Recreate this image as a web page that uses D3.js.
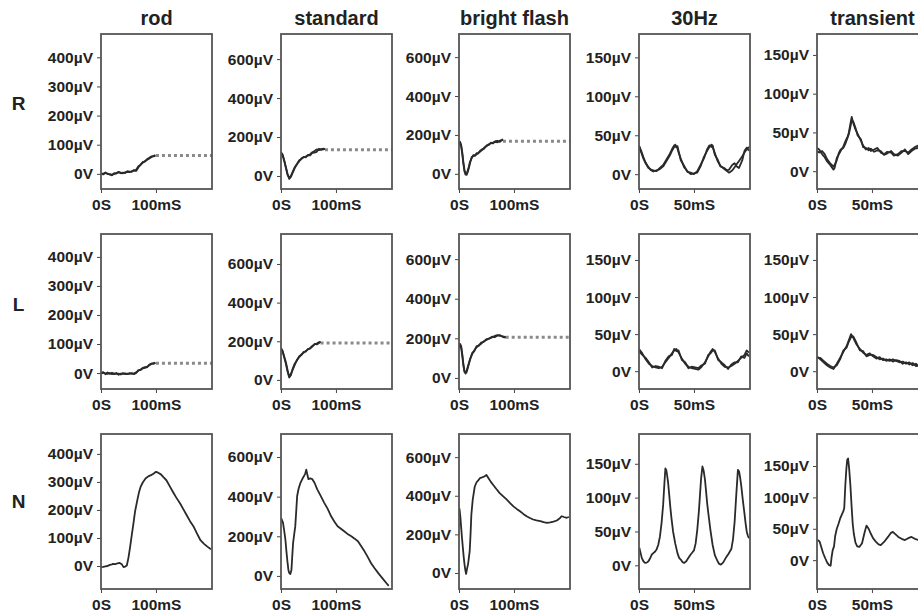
<!DOCTYPE html>
<html>
<head>
<meta charset="utf-8">
<script src="https://cdn.jsdelivr.net/npm/d3@7"></script>
<style>
body { margin: 0; background: #fff; }
text { font-family: "Liberation Sans", Arial, sans-serif; font-weight: bold; }
</style>
</head>
<body>
<div id="chart"></div>
<script>
var columns = ["rod", "standard", "bright flash", "30Hz", "transient"];
var rows = ["R", "L", "N"];

// axis ticks per column
var yTicks = [[0, 100, 200, 300, 400], [0, 200, 400, 600], [0, 200, 400, 600], [0, 50, 100, 150], [0, 50, 100, 150]];
var xTicks = [[0, 100], [0, 100], [0, 100], [0, 50], [0, 50]];
var xMax = [202, 202, 202, 101, 101];

// y range shown in each box [min, max] in µV, row by row
var yRangeR = [[-52, 480], [-67, 729], [-78, 719], [-19, 180], [-23, 177]];
var yRangeL = [[-55, 479], [-47, 755], [-56, 727], [-24, 185], [-24, 185]];
var yRangeN = [[-82, 471], [-66, 716], [-83, 720], [-35, 194], [-46, 201]];

// traces: [ms, µV]
var rodR1 = [[0,0],[4,-2],[8,3],[12,1],[16,-3],[20,-5],[24,0],[28,3],[32,5],[36,4],[40,2],[44,5],[48,7],[52,6],[56,9],[60,11],[64,10],[68,22],[72,32],[76,38],[80,44],[84,48],[88,53],[92,58],[96,62],[99,64]];
var rodR2 = [[0,2],[4,0],[8,5],[12,-1],[16,-1],[20,-3],[24,2],[28,1],[32,7],[36,2],[40,4],[44,3],[48,9],[52,8],[56,7],[60,13],[64,14],[68,26],[72,30],[76,41],[80,42],[84,51],[88,55],[92,60],[96,60],[99,62]];
var stdR1 = [[0,122],[3,110],[6,80],[9,45],[12,10],[15,-15],[18,-5],[21,15],[25,40],[29,60],[33,75],[37,90],[41,95],[45,100],[49,104],[53,112],[57,122],[61,128],[65,136],[69,132],[73,138],[77,140],[80,138]];
var stdR2 = [[0,118],[3,104],[6,75],[9,40],[12,5],[15,-10],[18,0],[21,20],[25,45],[29,62],[33,80],[37,86],[41,98],[45,96],[49,108],[53,106],[57,118],[61,120],[65,124],[69,140],[73,134],[77,136],[80,140]];
var brtR1 = [[0,150],[2,165],[4,148],[6,110],[8,60],[10,20],[12,0],[14,-5],[16,10],[18,30],[20,55],[23,85],[26,92],[29,96],[32,100],[35,108],[38,113],[42,122],[46,135],[50,142],[54,152],[58,156],[62,160],[66,164],[70,162],[74,170],[78,175],[80,178]];
var brtR2 = [[0,160],[2,158],[4,140],[6,100],[8,50],[10,12],[12,-4],[14,2],[16,18],[18,38],[20,62],[23,80],[26,96],[29,92],[32,106],[35,104],[38,118],[42,126],[46,130],[50,146],[54,148],[58,160],[62,156],[66,168],[70,170],[74,164],[78,172],[80,176]];
var hzR1 = [[0,37],[2,30],[4,22],[6,15],[8.6,9],[11,5],[13,3.5],[16,5],[19,6.5],[22,10],[25,17],[28,24],[30,30],[32,35],[33,38],[35,33],[36,28],[38,20],[41,9],[44,4],[47,0],[50,1],[53,2],[56,10],[59,22],[62,30],[64,35],[66,38],[67,35],[69,27],[71.5,17],[74,11],[77.6,6.5],[80,4],[82,2],[85,5],[87,9],[89,13],[91,17],[94,23],[96,28],[98,32],[100,35]];
var hzR2 = [[0,35],[2,28],[4,20],[6,14],[8.6,8],[11,6],[13,5],[16,4],[19,8],[22,12],[25,19],[28,26],[30,32],[32,37],[33,35],[35,36],[36,30],[38,18],[41,11],[44,3],[47,2],[50,0],[53,4],[56,12],[59,20],[62,32],[64,37],[66,35],[67,37],[69,25],[71.5,19],[74,10],[77.6,8],[80,5],[82,6],[85,12],[87,14],[89,10],[91,8],[94,18],[96,30],[98,34],[100,30]];
var trR1 = [[0,30],[2,28],[4.6,22],[7,18],[9,13],[12,8],[15,2],[16,4],[18,17],[20,22],[21.5,26],[24,32],[26,39],[28,45],[29,50],[30.5,62],[31.6,70],[33,62],[35,54],[37,48],[40,39],[42,33],[44.5,28],[47,30],[49,26],[52,28],[55,30],[58,24],[61,22],[64,25],[67.5,24],[70,20],[73.6,22],[77,26],[80,26],[83,24],[86,28],[89,31],[92,33],[95,30],[98,28],[101,30]];
var trR2 = [[0,26],[2,24],[4.6,26],[7,22],[9,16],[12,10],[15,6],[16,8],[18,14],[20,24],[21.5,28],[24,30],[26,36],[28,44],[29,48],[30.5,58],[31.6,66],[33,64],[35,56],[37,46],[40,41],[42,31],[44.5,30],[47,27],[49,29],[52,25],[55,27],[58,26],[61,21],[64,23],[67.5,26],[70,22],[73.6,20],[77,24],[80,28],[83,22],[86,26],[89,29],[92,30],[95,32],[98,26],[101,28]];

var rodL1 = [[0,0],[4,3],[8,-4],[12,2],[16,-3],[20,1],[24,-4],[28,0],[32,-6],[36,-2],[40,-3],[44,-1],[48,-4],[52,0],[56,-3],[60,-1],[64,2],[68,8],[72,12],[76,16],[80,18],[84,22],[88,27],[92,31],[96,34],[99,36]];
var rodL2 = [[0,-2],[4,1],[8,-1],[12,-3],[16,0],[20,-4],[24,-1],[28,-3],[32,-2],[36,-5],[40,0],[44,-4],[48,-2],[52,-3],[56,0],[60,-4],[64,0],[68,10],[72,10],[76,18],[80,20],[84,20],[88,29],[92,33],[96,32],[99,34]];
var stdL1 = [[0,165],[3,150],[6,120],[9,90],[12,50],[15,17],[18,30],[21,50],[25,78],[29,104],[33,118],[37,132],[41,140],[45,150],[49,157],[53,166],[57,176],[61,183],[65,188],[69,195],[72,196]];
var stdL2 = [[0,160],[3,146],[6,114],[9,82],[12,42],[15,12],[18,24],[21,56],[25,84],[29,100],[33,122],[37,128],[41,145],[45,146],[49,160],[53,162],[57,172],[61,186],[65,184],[69,190],[72,198]];
var brtL1 = [[0,150],[2,172],[4,160],[6,120],[8,70],[10,35],[12,22],[14,30],[17,60],[20,95],[24,120],[28,140],[32,155],[36,165],[40,172],[45,185],[50,192],[55,200],[60,205],[65,212],[70,216],[75,212],[80,210],[85,206]];
var brtL2 = [[0,158],[2,166],[4,150],[6,110],[8,62],[10,30],[12,26],[14,38],[17,66],[20,90],[24,126],[28,136],[32,160],[36,162],[40,178],[45,182],[50,196],[55,198],[60,208],[65,206],[70,214],[75,216],[80,206],[85,204]];
var hzL1 = [[0,30],[3,24],[6,16],[9,10],[12,7],[15,5],[18,4],[21,6],[24,12],[27,18],[30,24],[32,28],[34,30],[36,25],[39,17],[42,10],[45,6],[48,4],[51,3],[54,2],[57,6],[60,12],[63,20],[65,26],[67,30],[69,26],[72,17],[75,10],[78,6],[81,5],[84,7],[87,10],[90,14],[93,18],[96,22],[98,28],[100,25]];
var hzL2 = [[0,27],[3,22],[6,18],[9,12],[12,5],[15,7],[18,6],[21,4],[24,14],[27,20],[30,22],[32,30],[34,27],[36,28],[39,15],[42,12],[45,4],[48,6],[51,5],[54,4],[57,8],[60,10],[63,22],[65,24],[67,28],[69,28],[72,15],[75,12],[78,8],[81,3],[84,9],[87,12],[90,12],[93,20],[96,18],[98,24],[100,20]];
var trL1 = [[0,20],[3,16],[6,12],[9,8],[12,5],[15,3],[18,10],[21,18],[24,26],[27,34],[29,42],[31,50],[33,45],[36,36],[39,30],[42,25],[45,22],[48,24],[51,20],[54,17],[57,19],[60,15],[63,16],[66,14],[69,16],[72,14],[75,12],[78,13],[81,10],[84,12],[87,8],[90,10],[93,6],[96,4],[98,0],[100,-8]];
var trL2 = [[0,18],[3,18],[6,14],[9,10],[12,7],[15,5],[18,8],[21,16],[24,28],[27,32],[29,40],[31,46],[33,47],[36,38],[39,28],[42,27],[45,20],[48,22],[51,22],[54,19],[57,16],[60,17],[63,14],[66,16],[69,13],[72,15],[75,14],[78,10],[81,12],[84,9],[87,11],[90,7],[93,8],[96,2],[98,-4],[100,-12]];

var rodN = [[0,-4],[4,-3],[8,-1],[12,0],[16,4],[20,6],[22,8],[26,7],[30,9],[34,11],[38,6],[41,-4],[44,-2],[47,2],[50,30],[53,68],[56,110],[59,151],[62,195],[66,234],[69,262],[72,282],[76,298],[81,312],[86,320],[91,324],[96,330],[100,336],[104,333],[109,327],[114,316],[119,306],[125,285],[131,264],[137,244],[144,223],[150,202],[156,181],[162,160],[169,139],[175,115],[181,92],[187,80],[193,70],[200,60]];
var stdN = [[0,293],[2,280],[3.7,268],[6,225],[8,183],[10,120],[12,64],[13.5,30],[15,14],[17,10],[19,30],[20.5,100],[22,166],[24,210],[26,251],[28,340],[29.4,403],[32,440],[35.6,471],[39,490],[42,505],[44,515],[46,536],[48,510],[50,488],[53,492],[57,488],[61,470],[66,437],[72,405],[78.5,370],[85,338],[91,302],[97,275],[103,251],[109,238],[115,225],[121,212],[128,200],[134,188],[140,175],[146,150],[152,124],[158,95],[164,64],[170,40],[177,14],[184,-10],[192,-37],[196,-50]];
var brtN = [[0,337],[1,330],[2.5,290],[4,234],[5.5,180],[7,132],[8.5,85],[10,46],[11.5,15],[13,-5],[14.5,20],[16.5,46],[18,80],[19.5,115],[21,200],[22.5,303],[25,380],[28.7,448],[32,470],[35,480],[38,491],[42,495],[46,500],[50,508],[54,490],[58,472],[62,457],[68,435],[74,414],[80,398],[87,380],[93,362],[99,345],[105,332],[111,320],[117,306],[123,294],[129,285],[135,277],[141,272],[148,269],[154,264],[160,260],[166,262],[172,266],[178,272],[184,285],[187,294],[191,290],[196,286],[200,290]];
var hzN = [[0.3,26],[1.5,18],[2.5,11],[4,6],[5.5,3.5],[7,4],[8.6,6],[10,10],[11.7,16],[13,18],[14.5,20],[16,23.5],[17.5,30],[19,42],[20.5,62],[22,90],[23,118],[24,143],[24.8,141],[25.5,134],[26.5,122],[27.5,104],[28.5,86],[29.5,70],[31,50],[33,32],[35,18],[36.5,11],[38,8.5],[39.5,5],[41,3.5],[43,6],[45,11],[47,16],[48.5,19],[50,22],[51.5,32],[53,52],[54.5,80],[55.5,104],[56.5,128],[57.7,146],[58.8,140],[60,127],[61,110],[62,92],[63,78],[65,52],[67,30],[69,15],[71.5,6],[73,2],[74.5,1],[76.5,4],[79,11],[81.5,17],[84,24],[85.5,38],[87,64],[88.5,104],[90,141],[91,139],[92,130],[93,118],[94.5,96],[96,76],[97,62],[98,50],[99,44],[100,40]];
var trN = [[0,32],[1.5,31],[2.5,29],[4,20],[5.6,11],[7.5,3],[9.3,-4],[11,-8],[12.4,-9],[13.3,5],[14.3,16],[15.5,22],[16.5,38],[18,50],[19.6,58],[21,66],[22.7,73],[24,78],[24.8,83],[25.8,120],[26.7,145],[27.5,160],[28.3,162],[29.3,145],[30.4,119],[31.5,85],[32.5,58],[33.5,42],[35,28],[36.6,22],[38.5,21],[41,27],[43,42],[45,55],[47,50],[49,42],[51,35],[53.7,29],[56,25],[58,24],[61,29],[64.6,37],[67,43],[69,45],[71.5,41],[74,37],[77,34],[80,32],[83,35],[86,37],[89,34],[92.5,32],[95,34],[97,33],[99,32],[101,32]];

// flat dotted continuation [start ms, µV]
var dottedR = [[100, 63], [80, 134], [80, 168]];
var dottedL = [[100, 34], [72, 191], [85, 205]];

var panelTraces = [
  [[rodR1, rodR2], [stdR1, stdR2], [brtR1, brtR2], [hzR1, hzR2], [trR1, trR2]],
  [[rodL1, rodL2], [stdL1, stdL2], [brtL1, brtL2], [hzL1, hzL2], [trL1, trL2]],
  [[rodN], [stdN], [brtN], [hzN], [trN]]
];
var panelRanges = [yRangeR, yRangeL, yRangeN];
var panelDotted = [dottedR, dottedL, []];

// layout
var colLeft = [101, 281, 459, 639, 817];
var rowTop = [34, 234, 434];
var boxW = 111, boxH = 155;

var svg = d3.select("#chart").append("svg")
    .attr("width", 918)
    .attr("height", 615);

function fmtY(v) { return v === 0 ? "0V" : v + "\u00b5V"; }
function fmtX(v) { return v === 0 ? "0S" : v + "mS"; }

svg.selectAll(".coltitle")
   .data(columns)
   .enter()
   .append("text")
   .attr("x", function(d, i) { return colLeft[i] + boxW / 2; })
   .attr("y", 25)
   .attr("text-anchor", "middle")
   .attr("font-size", 20)
   .attr("fill", "#222")
   .text(function(d) { return d; });

svg.selectAll(".rowlabel")
   .data(rows)
   .enter()
   .append("text")
   .attr("x", 18.5)
   .attr("y", function(d, i) { return [103, 304, 501][i] + 7; })
   .attr("text-anchor", "middle")
   .attr("font-size", 19)
   .attr("fill", "#222")
   .text(function(d) { return d; });

var line = d3.line();

rows.forEach(function(r, ri) {
  columns.forEach(function(c, ci) {
    var x0 = colLeft[ci], y0 = rowTop[ri];
    var x = d3.scaleLinear().domain([0, xMax[ci]]).range([0, boxW]);
    var y = d3.scaleLinear().domain(panelRanges[ri][ci]).range([boxH, 0]);
    var g = svg.append("g").attr("transform", "translate(" + x0 + "," + y0 + ")");

    var clipId = "clip" + ri + ci;
    g.append("clipPath").attr("id", clipId)
     .append("rect").attr("width", boxW).attr("height", boxH);

    var ya = g.append("g")
        .call(d3.axisLeft(y).tickValues(yTicks[ci]).tickSize(4).tickPadding(4).tickFormat(fmtY))
        .attr("font-size", 15.5)
        .attr("font-family", "Liberation Sans, Arial, sans-serif")
        .attr("color", "#444");
    ya.select(".domain").remove();
    ya.selectAll("text").attr("fill", "#222");

    var xa = g.append("g")
        .attr("transform", "translate(0," + boxH + ")")
        .call(d3.axisBottom(x).tickValues(xTicks[ci]).tickSize(4).tickPadding(6).tickFormat(fmtX))
        .attr("font-size", 15.5)
        .attr("font-family", "Liberation Sans, Arial, sans-serif")
        .attr("color", "#444");
    xa.select(".domain").remove();
    xa.selectAll("text").attr("fill", "#222");

    var plot = g.append("g").attr("clip-path", "url(#" + clipId + ")");

    var dot = panelDotted[ri][ci];
    if (dot) {
      plot.append("line")
          .attr("x1", x(dot[0])).attr("x2", x(xMax[ci]))
          .attr("y1", y(dot[1])).attr("y2", y(dot[1]))
          .attr("stroke", "#8a8a8a")
          .attr("stroke-width", 3)
          .attr("stroke-dasharray", "3,3");
    }

    plot.selectAll("path.trace")
        .data(panelTraces[ri][ci])
        .enter()
        .append("path")
        .attr("class", "trace")
        .attr("d", function(d) {
          return line(d.map(function(p) { return [x(p[0]), y(p[1])]; }));
        })
        .attr("fill", "none")
        .attr("stroke", "#2a2a2a")
        .attr("stroke-width", 1.8)
        .attr("stroke-linejoin", "round");

    g.append("rect")
     .attr("width", boxW).attr("height", boxH)
     .attr("fill", "none")
     .attr("stroke", "#555")
     .attr("stroke-width", 1.8);
  });
});
</script>
</body>
</html>
